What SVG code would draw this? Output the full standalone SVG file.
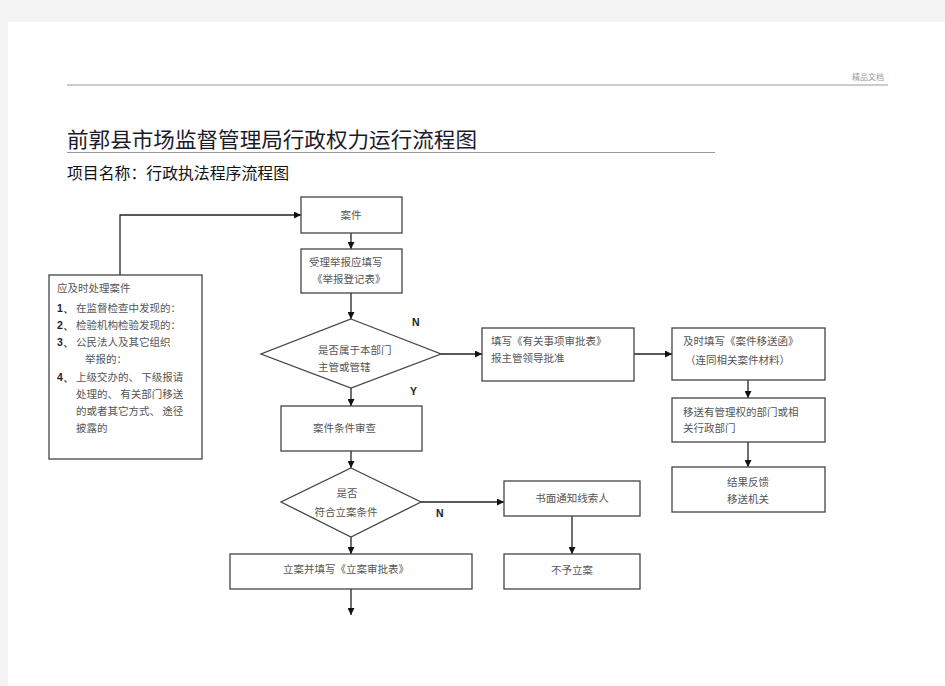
<svg xmlns="http://www.w3.org/2000/svg" width="945" height="686" viewBox="0 0 945 686">
<defs>
<marker id="ah" viewBox="0 0 10 10" refX="10" refY="5" markerWidth="7" markerHeight="7" markerUnits="userSpaceOnUse" orient="auto">
<path d="M0,0 L10,5 L0,10 z" fill="#111"/>
</marker>
<style>
.box{fill:#fff;stroke:#444;stroke-width:1.3}
.t{font-family:"Noto Sans CJK SC","Noto Sans",sans-serif;font-size:10.5px;fill:#555}
.c{text-anchor:middle}
.n{font-family:"Liberation Sans",Arial,sans-serif;font-size:10.5px;font-weight:bold;fill:#222}
.e{fill:none;stroke:#222;stroke-width:1.3;marker-end:url(#ah)}
</style>
</defs>
<rect x="0" y="0" width="945" height="686" fill="#f3f3f3"/>
<rect x="8" y="22" width="937" height="664" fill="#fff"/>
<line x1="67" y1="85" x2="888" y2="85" stroke="#999" stroke-width="1.2"/>
<text x="884" y="80" text-anchor="end" style="font-family:'Noto Sans CJK SC',sans-serif;font-size:8px;fill:#999">精品文档</text>
<text x="67" y="147" style="font-family:'Noto Sans CJK SC',sans-serif;font-size:21px;fill:#1a1a2a" textLength="410" lengthAdjust="spacingAndGlyphs">前郭县市场监督管理局行政权力运行流程图</text>
<line x1="67" y1="152.5" x2="715" y2="152.5" stroke="#999" stroke-width="1.2"/>
<text x="67" y="179" style="font-family:'Noto Sans CJK SC',sans-serif;font-size:15.5px;fill:#111" textLength="222" lengthAdjust="spacingAndGlyphs">项目名称：行政执法程序流程图</text>

<g id="connectors">
<polyline class="e" points="120,275 120,215 301,215"/>
<line class="e" x1="351" y1="233" x2="351" y2="249"/>
<line class="e" x1="351" y1="293" x2="351" y2="319"/>
<line class="e" x1="351" y1="388" x2="351" y2="406"/>
<line class="e" x1="441" y1="354" x2="482" y2="354"/>
<line class="e" x1="634" y1="354" x2="672" y2="354"/>
<line class="e" x1="748" y1="380" x2="748" y2="398"/>
<line class="e" x1="748" y1="442" x2="748" y2="467"/>
<line class="e" x1="351" y1="451" x2="351" y2="468"/>
<line class="e" x1="421" y1="502" x2="504" y2="502"/>
<line class="e" x1="351" y1="537" x2="351" y2="554"/>
<line class="e" x1="572" y1="516" x2="572" y2="554"/>
<line class="e" x1="351" y1="589" x2="351" y2="615"/>
<text class="n" x="412" y="326">N</text>
<text class="n" x="410" y="395">Y</text>
<text class="n" x="436" y="517">N</text>
</g>

<g id="source">
<rect class="box" x="49" y="275" width="153" height="184"/>
<text class="t" x="57" y="292">应及时处理案件</text>
<text class="n" x="57" y="312" style="font-weight:bold">1、</text><text class="t" x="76" y="312">在监督检查中发现的：</text>
<text class="n" x="57" y="329">2、</text><text class="t" x="76" y="329">检验机构检验发现的：</text>
<text class="n" x="57" y="346">3、</text><text class="t" x="76" y="346">公民法人及其它组织</text>
<text class="t" x="85" y="363">举报的：</text>
<text class="n" x="57" y="381">4、</text><text class="t" x="76" y="381">上级交办的、 下级报请</text>
<text class="t" x="76" y="398">处理的、 有关部门移送</text>
<text class="t" x="76" y="415">的或者其它方式、 途径</text>
<text class="t" x="76" y="432">披露的</text>
</g>

<g id="case">
<rect class="box" x="301" y="197" width="101" height="36"/>
<text class="t c" x="351" y="219">案件</text>
</g>
<g id="register">
<rect class="box" x="301" y="249" width="101" height="44"/>
<text class="t" x="309" y="266">受理举报应填写</text>
<text class="t" x="312" y="283">《举报登记表》</text>
</g>
<g id="decision1">
<polygon class="box" points="351,319 441,354 351,388 261,354"/>
<text class="t" x="318" y="354">是否属于本部门</text>
<text class="t" x="318" y="371">主管或管辖</text>
</g>
<g id="approval">
<rect class="box" x="482" y="328" width="152" height="53"/>
<text class="t" x="491" y="345">填写《有关事项审批表》</text>
<text class="t" x="491" y="362">报主管领导批准</text>
</g>
<g id="transferletter">
<rect class="box" x="672" y="328" width="153" height="52"/>
<text class="t" x="683" y="345">及时填写《案件移送函》</text>
<text class="t" x="685" y="364">（连同相关案件材料）</text>
</g>
<g id="transfer">
<rect class="box" x="672" y="398" width="153" height="44"/>
<text class="t" x="683" y="416">移送有管理权的部门或相</text>
<text class="t" x="683" y="432">关行政部门</text>
</g>
<g id="feedback">
<rect class="box" x="672" y="467" width="153" height="45"/>
<text class="t c" x="748" y="486">结果反馈</text>
<text class="t c" x="748" y="503">移送机关</text>
</g>
<g id="review">
<rect class="box" x="281" y="406" width="141" height="45"/>
<text class="t" x="313" y="432">案件条件审查</text>
</g>
<g id="decision2">
<polygon class="box" points="351,468 421,502 351,537 281,502"/>
<text class="t c" x="347" y="497">是否</text>
<text class="t c" x="346" y="516">符合立案条件</text>
</g>
<g id="notify">
<rect class="box" x="504" y="481" width="136" height="35"/>
<text class="t c" x="572" y="502">书面通知线索人</text>
</g>
<g id="file">
<rect class="box" x="230" y="554" width="242" height="35"/>
<text class="t" x="283" y="573">立案并填写《立案审批表》</text>
</g>
<g id="reject">
<rect class="box" x="504" y="554" width="136" height="35"/>
<text class="t c" x="572" y="574">不予立案</text>
</g>
</svg>
